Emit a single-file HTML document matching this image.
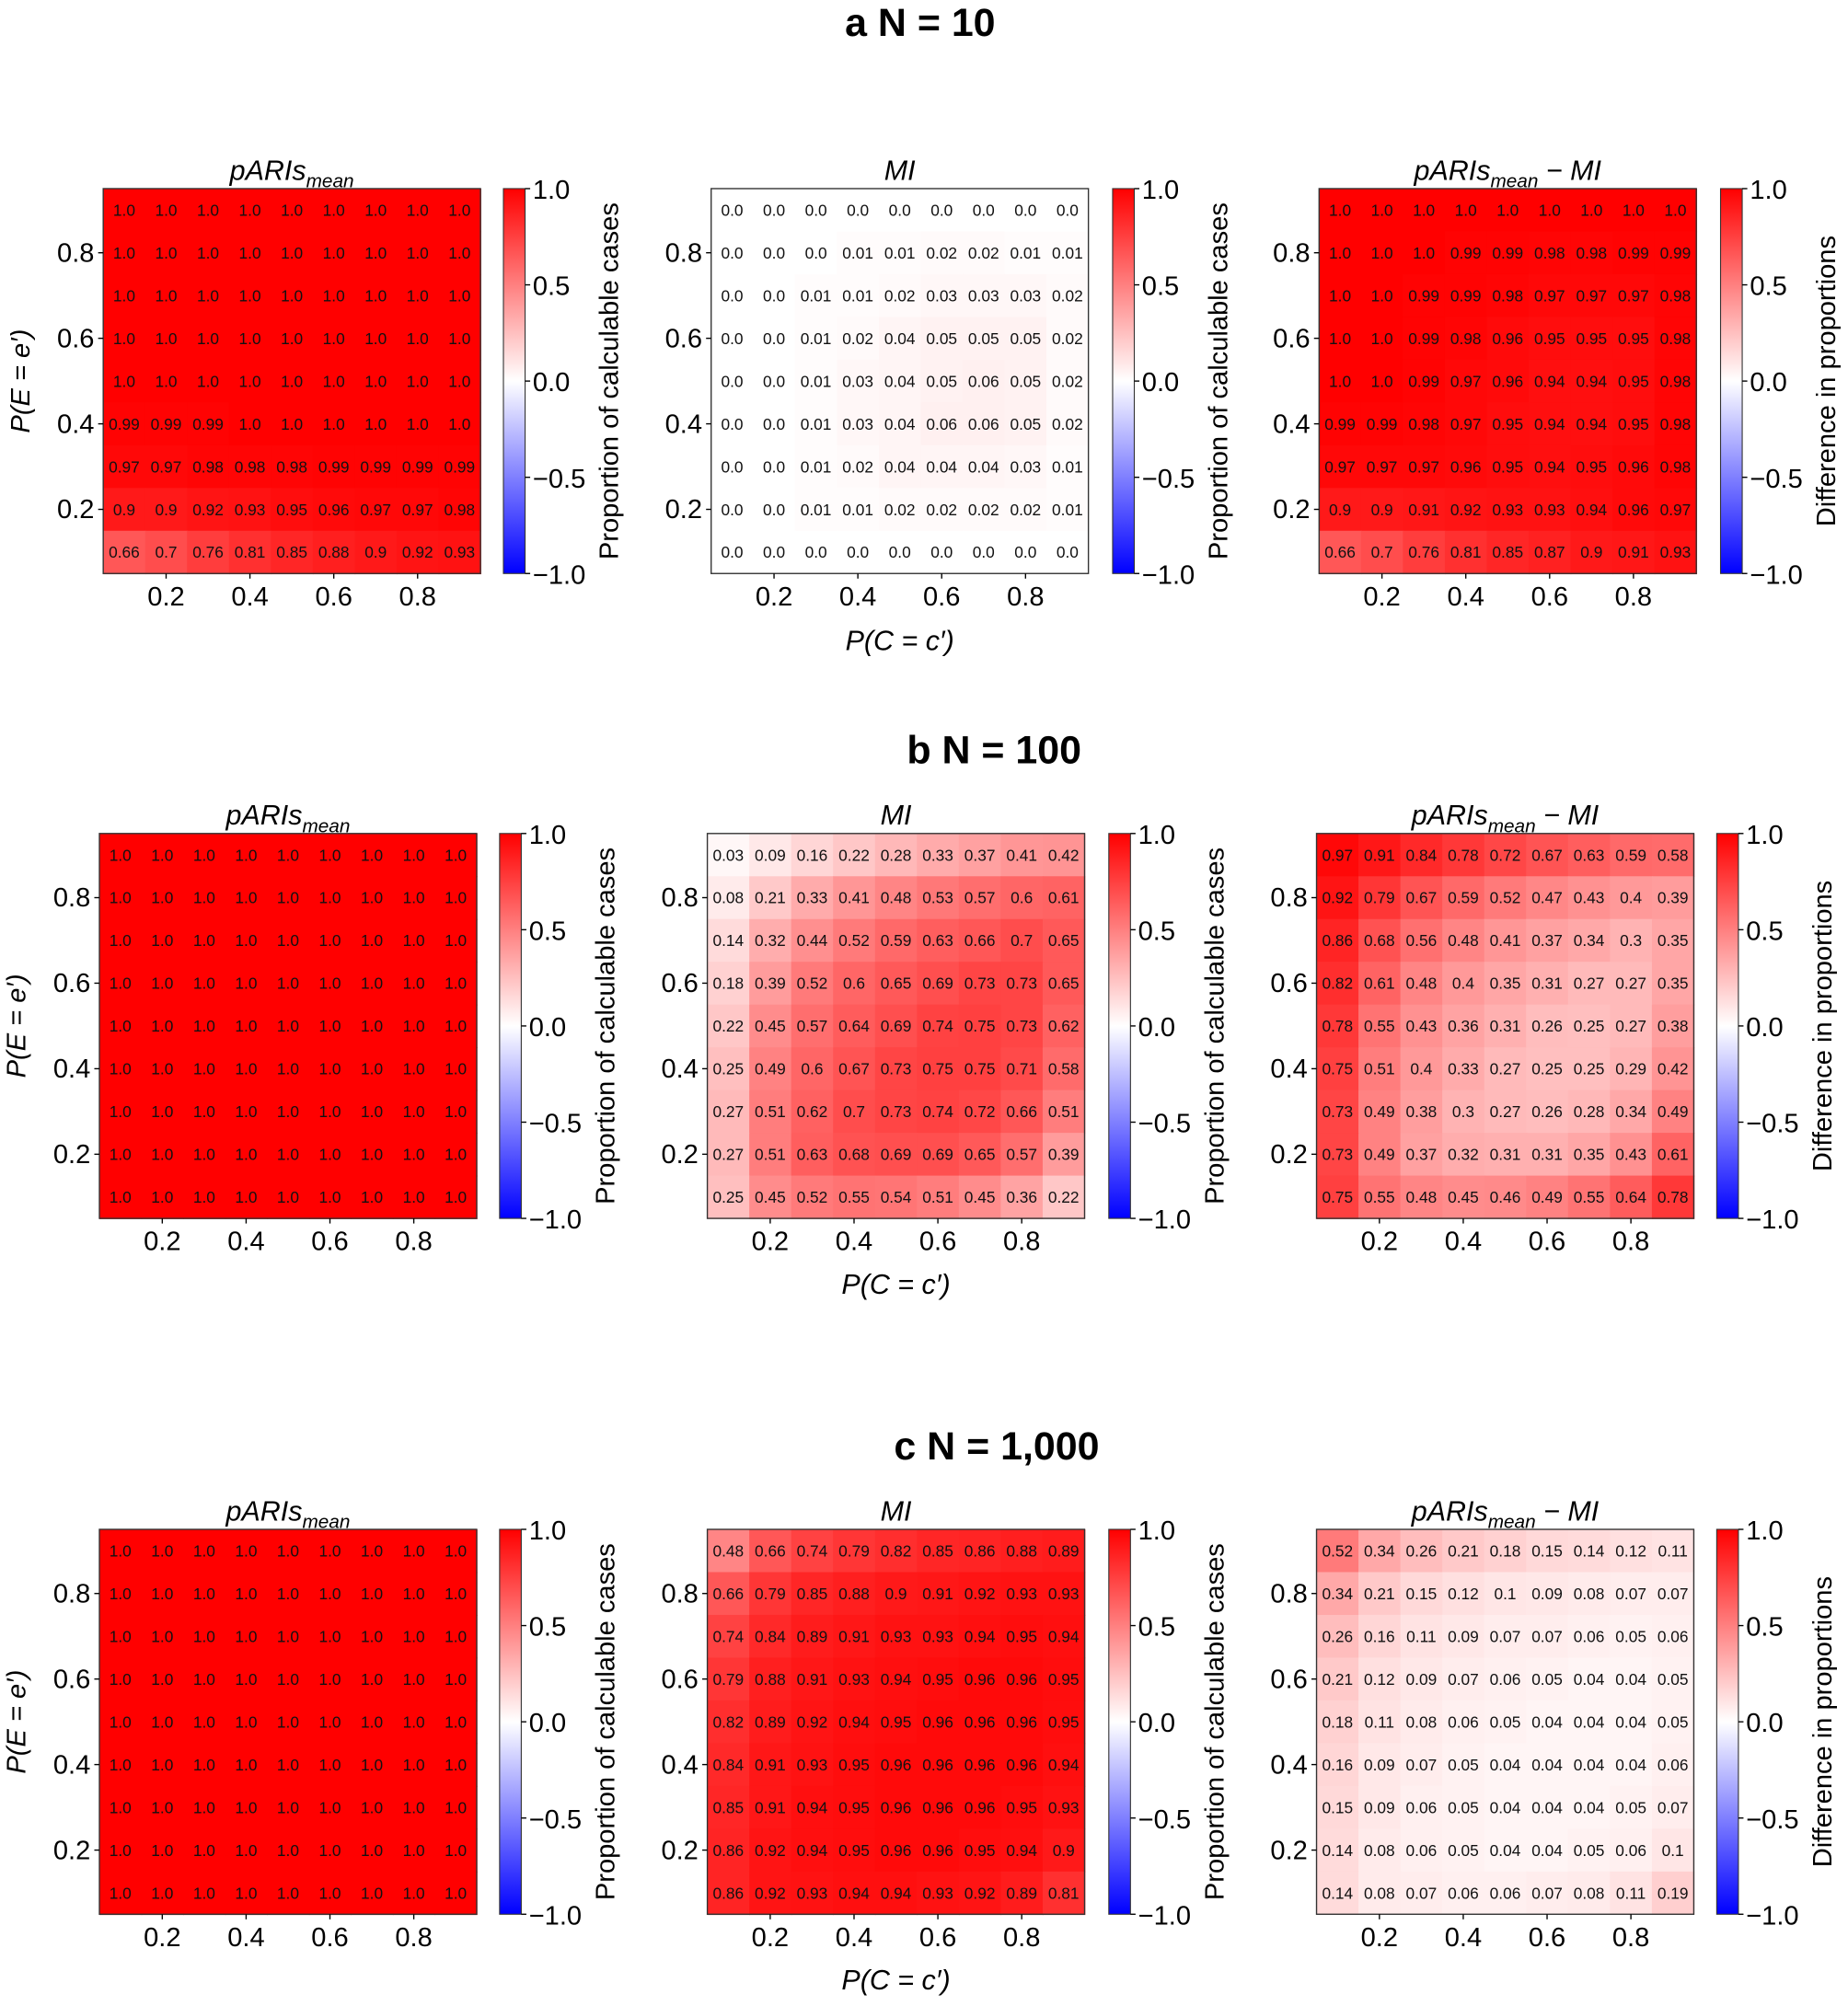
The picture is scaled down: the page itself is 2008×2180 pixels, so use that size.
<!DOCTYPE html>
<html><head><meta charset="utf-8"><style>
html,body{margin:0;padding:0;background:#fff}
svg{display:block}
text{font-family:"Liberation Sans",sans-serif}
</style></head><body>
<svg id="s" width="2008" height="2180" viewBox="0 0 1450 1574" preserveAspectRatio="none" xmlns="http://www.w3.org/2000/svg">
<defs><linearGradient id="cb" x1="0" y1="0" x2="0" y2="1">
<stop offset="0" stop-color="#ff0000"/><stop offset="0.5" stop-color="#ffffff"/><stop offset="1" stop-color="#0000ff"/>
</linearGradient></defs>
<g font-weight="bold" font-size="31" text-anchor="middle">
<text x="722" y="28">a N = 10</text>
<text x="780" y="599">b N = 100</text>
<text x="782" y="1145">c N = 1,000</text>
</g>
</svg>
<script>
const ones=()=>Array.from({length:9},()=>Array(9).fill(1));
const P=s=>s.trim().split('\n').map(r=>r.trim().split(/\s+/).map(Number));
const Aa1=P(`1 1 1 1 1 1 1 1 1
1 1 1 1 1 1 1 1 1
1 1 1 1 1 1 1 1 1
1 1 1 1 1 1 1 1 1
1 1 1 1 1 1 1 1 1
0.99 0.99 0.99 1 1 1 1 1 1
0.97 0.97 0.98 0.98 0.98 0.99 0.99 0.99 0.99
0.9 0.9 0.92 0.93 0.95 0.96 0.97 0.97 0.98
0.66 0.7 0.76 0.81 0.85 0.88 0.9 0.92 0.93`);
const Aa2=P(`0 0 0 0 0 0 0 0 0
0 0 0 0.01 0.01 0.02 0.02 0.01 0.01
0 0 0.01 0.01 0.02 0.03 0.03 0.03 0.02
0 0 0.01 0.02 0.04 0.05 0.05 0.05 0.02
0 0 0.01 0.03 0.04 0.05 0.06 0.05 0.02
0 0 0.01 0.03 0.04 0.06 0.06 0.05 0.02
0 0 0.01 0.02 0.04 0.04 0.04 0.03 0.01
0 0 0.01 0.01 0.02 0.02 0.02 0.02 0.01
0 0 0 0 0 0 0 0 0`);
const Aa3=P(`1 1 1 1 1 1 1 1 1
1 1 1 0.99 0.99 0.98 0.98 0.99 0.99
1 1 0.99 0.99 0.98 0.97 0.97 0.97 0.98
1 1 0.99 0.98 0.96 0.95 0.95 0.95 0.98
1 1 0.99 0.97 0.96 0.94 0.94 0.95 0.98
0.99 0.99 0.98 0.97 0.95 0.94 0.94 0.95 0.98
0.97 0.97 0.97 0.96 0.95 0.94 0.95 0.96 0.98
0.9 0.9 0.91 0.92 0.93 0.93 0.94 0.96 0.97
0.66 0.7 0.76 0.81 0.85 0.87 0.9 0.91 0.93`);
const Ab2=P(`0.03 0.09 0.16 0.22 0.28 0.33 0.37 0.41 0.42
0.08 0.21 0.33 0.41 0.48 0.53 0.57 0.6 0.61
0.14 0.32 0.44 0.52 0.59 0.63 0.66 0.7 0.65
0.18 0.39 0.52 0.6 0.65 0.69 0.73 0.73 0.65
0.22 0.45 0.57 0.64 0.69 0.74 0.75 0.73 0.62
0.25 0.49 0.6 0.67 0.73 0.75 0.75 0.71 0.58
0.27 0.51 0.62 0.7 0.73 0.74 0.72 0.66 0.51
0.27 0.51 0.63 0.68 0.69 0.69 0.65 0.57 0.39
0.25 0.45 0.52 0.55 0.54 0.51 0.45 0.36 0.22`);
const Ab3=P(`0.97 0.91 0.84 0.78 0.72 0.67 0.63 0.59 0.58
0.92 0.79 0.67 0.59 0.52 0.47 0.43 0.4 0.39
0.86 0.68 0.56 0.48 0.41 0.37 0.34 0.3 0.35
0.82 0.61 0.48 0.4 0.35 0.31 0.27 0.27 0.35
0.78 0.55 0.43 0.36 0.31 0.26 0.25 0.27 0.38
0.75 0.51 0.4 0.33 0.27 0.25 0.25 0.29 0.42
0.73 0.49 0.38 0.3 0.27 0.26 0.28 0.34 0.49
0.73 0.49 0.37 0.32 0.31 0.31 0.35 0.43 0.61
0.75 0.55 0.48 0.45 0.46 0.49 0.55 0.64 0.78`);
const Ac2=P(`0.48 0.66 0.74 0.79 0.82 0.85 0.86 0.88 0.89
0.66 0.79 0.85 0.88 0.9 0.91 0.92 0.93 0.93
0.74 0.84 0.89 0.91 0.93 0.93 0.94 0.95 0.94
0.79 0.88 0.91 0.93 0.94 0.95 0.96 0.96 0.95
0.82 0.89 0.92 0.94 0.95 0.96 0.96 0.96 0.95
0.84 0.91 0.93 0.95 0.96 0.96 0.96 0.96 0.94
0.85 0.91 0.94 0.95 0.96 0.96 0.96 0.95 0.93
0.86 0.92 0.94 0.95 0.96 0.96 0.95 0.94 0.9
0.86 0.92 0.93 0.94 0.94 0.93 0.92 0.89 0.81`);
const Ac3=P(`0.52 0.34 0.26 0.21 0.18 0.15 0.14 0.12 0.11
0.34 0.21 0.15 0.12 0.1 0.09 0.08 0.07 0.07
0.26 0.16 0.11 0.09 0.07 0.07 0.06 0.05 0.06
0.21 0.12 0.09 0.07 0.06 0.05 0.04 0.04 0.05
0.18 0.11 0.08 0.06 0.05 0.04 0.04 0.04 0.05
0.16 0.09 0.07 0.05 0.04 0.04 0.04 0.04 0.06
0.15 0.09 0.06 0.05 0.04 0.04 0.04 0.05 0.07
0.14 0.08 0.06 0.05 0.04 0.04 0.05 0.06 0.1
0.14 0.08 0.07 0.06 0.06 0.07 0.08 0.11 0.19`);
const fmt=v=>{let s=String(v);if(!s.includes('.'))s=s+'.0';return s;};
let out='';
const T1='pARIs<tspan font-size="15" dy="6">mean</tspan>';
const T3='pARIs<tspan font-size="15" dy="6">mean</tspan><tspan dy="-6"> − MI</tspan>';
function panel(x,y,data,title,cbx,cblabel,showY){
  const W=296,H=302,cw=W/9,ch=H/9;
  out+=`<text x="${x+W/2}" y="${y-7}" font-size="22" font-style="italic" text-anchor="middle">${title}</text>`;
  for(let i=0;i<9;i++)for(let j=0;j<9;j++){
    const v=data[i][j];const g=Math.round(255*(1-v));
    out+=`<rect x="${(x+j*cw).toFixed(2)}" y="${(y+i*ch).toFixed(2)}" width="${(cw+0.6).toFixed(2)}" height="${(ch+0.6).toFixed(2)}" fill="rgb(255,${g},${g})"/>`;
    out+=`<text x="${(x+j*cw+cw/2).toFixed(2)}" y="${(y+i*ch+ch/2+4.5).toFixed(2)}" font-size="12.5" text-anchor="middle" fill="#111">${fmt(v)}</text>`;
  }
  out+=`<rect x="${x}" y="${y}" width="${W}" height="${H}" fill="none" stroke="#333" stroke-width="1"/>`;
  [[1,'0.8'],[3,'0.6'],[5,'0.4'],[7,'0.2']].forEach(([r,l])=>{
    const yy=y+r*ch+ch/2;
    out+=`<line x1="${x-4}" y1="${yy}" x2="${x}" y2="${yy}" stroke="#000"/>`;
    out+=`<text x="${x-7}" y="${yy+7}" font-size="21" text-anchor="end">${l}</text>`;
  });
  [[1,'0.2'],[3,'0.4'],[5,'0.6'],[7,'0.8']].forEach(([c,l])=>{
    const xx=x+c*cw+cw/2;
    out+=`<line x1="${xx}" y1="${y+H}" x2="${xx}" y2="${y+H+4}" stroke="#000"/>`;
    out+=`<text x="${xx}" y="${y+H+25}" font-size="21" text-anchor="middle">${l}</text>`;
  });
  out+=`<rect x="${cbx}" y="${y}" width="17" height="${H}" fill="url(#cb)" stroke="#333" stroke-width="0.8"/>`;
  [['1.0',0],['0.5',0.25],['0.0',0.5],['−0.5',0.75],['−1.0',1]].forEach(([l,f])=>{
    const yy=y+f*H;
    out+=`<line x1="${cbx+17}" y1="${yy}" x2="${cbx+21}" y2="${yy}" stroke="#000"/>`;
    out+=`<text x="${cbx+23}" y="${yy+8}" font-size="21">${l}</text>`;
  });
  const lx=cbx+90, ly=y+H/2;
  out+=`<text transform="translate(${lx},${ly}) rotate(-90)" font-size="21" text-anchor="middle">${cblabel}</text>`;
  if(showY){
    out+=`<text transform="translate(${x-58},${ly}) rotate(-90)" font-size="21" font-style="italic" text-anchor="middle">P(E = e′)</text>`;
  }
}
const L1='Proportion of calculable cases', L3='Difference in proportions';
const rows=[
 {y:148,xs:[81,558,1035],cb:[395,873,1350],d:[Aa1,Aa2,Aa3],xl:510},
 {y:654,xs:[78,555,1033],cb:[392,870,1347],d:[ones(),Ab2,Ab3],xl:1015},
 {y:1200,xs:[78,555,1033],cb:[392,870,1347],d:[ones(),Ac2,Ac3],xl:1561}
];
rows.forEach(r=>{
  panel(r.xs[0],r.y,r.d[0],T1,r.cb[0],L1,true);
  panel(r.xs[1],r.y,r.d[1],'MI',r.cb[1],L1,false);
  panel(r.xs[2],r.y,r.d[2],T3,r.cb[2],L3,false);
  out+=`<text x="${r.xs[1]+148}" y="${r.xl}" font-size="22" font-style="italic" text-anchor="middle">P(C = c′)</text>`;
});
document.getElementById('s').insertAdjacentHTML('beforeend',out);
</script>
</body></html>
